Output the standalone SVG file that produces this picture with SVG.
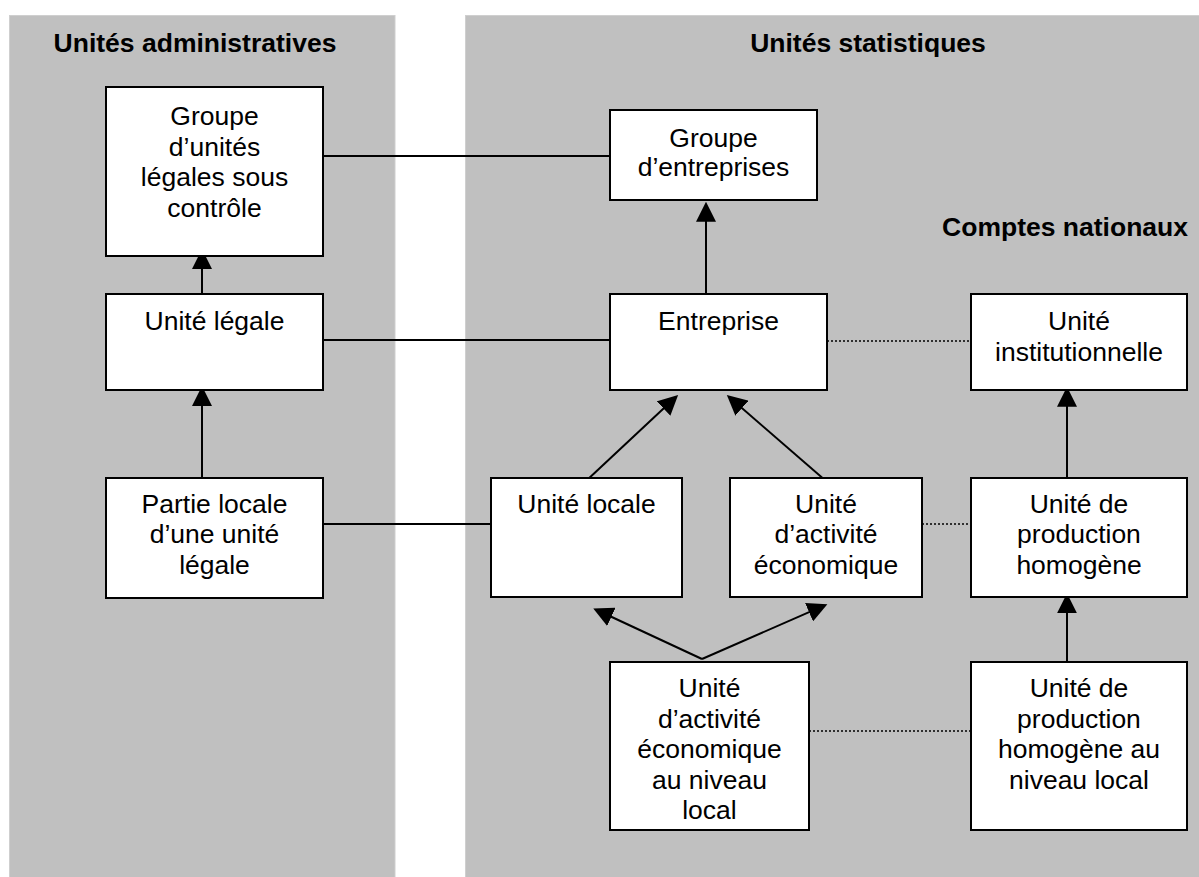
<svg xmlns="http://www.w3.org/2000/svg" width="1199" height="877" viewBox="0 0 1199 877">
<style>
.panel{fill:#c0c0c0;stroke:#cfcfcf;stroke-width:1}
.box{fill:#ffffff;stroke:#000000;stroke-width:2}
.t{font-family:"Liberation Sans",Arial,sans-serif;font-size:26.5px;fill:#000000;text-anchor:middle}
.h{font-family:"Liberation Sans",Arial,sans-serif;font-size:26.5px;font-weight:bold;fill:#000000}
.solid{stroke:#000000;stroke-width:2;fill:none}
.dot{stroke:#000000;stroke-width:1.3;stroke-dasharray:2 2;fill:none}
.arr{stroke:#000000;stroke-width:2;fill:none;marker-end:url(#ah)}
</style>
<defs>
<marker id="ah" markerUnits="userSpaceOnUse" markerWidth="20" markerHeight="20" refX="15" refY="10" orient="auto" viewBox="0 0 20 20">
<path d="M0,0 L20,10 L0,20 Z" fill="#000000"/>
</marker>
</defs>
<rect width="1199" height="877" fill="#ffffff"/>
<g id="panels">
<rect class="panel" x="9.5" y="15.5" width="385.5" height="862"/>
<rect class="panel" x="465.5" y="15.5" width="734" height="862"/>
<text class="h" x="195" y="52" text-anchor="middle">Unités administratives</text>
<text class="h" x="868" y="52" text-anchor="middle">Unités statistiques</text>
<text class="h" x="1188" y="236" text-anchor="end">Comptes nationaux</text>
</g>
<g id="connectors">
<line class="solid" x1="323" y1="156" x2="610" y2="156"/>
<line class="solid" x1="323" y1="340" x2="610" y2="340"/>
<line class="solid" x1="323" y1="524" x2="491" y2="524"/>
<line class="dot" x1="827" y1="341" x2="971" y2="341"/>
<line class="dot" x1="922" y1="524" x2="971" y2="524"/>
<line class="dot" x1="809" y1="731" x2="971" y2="731"/>
<path class="arr" d="M202,294 L202,254"/>
<path class="arr" d="M202,478 L202,391"/>
<path class="arr" d="M706,296 L706,206.7"/>
<path class="arr" d="M586,481 L674.5,398.3"/>
<path class="arr" d="M826,481 L730.6,398.3"/>
<path class="arr" d="M1067,478 L1067,391.7"/>
<path class="arr" d="M1067,664 L1067,598.3"/>
<path class="arr" d="M702,659 L597.8,610.5"/>
<path class="arr" d="M702,659 L822.8,606.2"/>
</g>
<g id="n-groupe-ul">
<rect class="box" x="106" y="87" width="217" height="169"/>
<text class="t" x="214.5" y="125">Groupe</text>
<text class="t" x="214.5" y="155.5">d’unités</text>
<text class="t" x="214.5" y="186">légales sous</text>
<text class="t" x="214.5" y="216.5">contrôle</text>
</g>
<g id="n-unite-legale">
<rect class="box" x="106" y="294" width="217" height="96"/>
<text class="t" x="214.5" y="330">Unité légale</text>
</g>
<g id="n-partie-locale">
<rect class="box" x="106" y="478" width="217" height="120"/>
<text class="t" x="214.5" y="512.5">Partie locale</text>
<text class="t" x="214.5" y="543">d’une unité</text>
<text class="t" x="214.5" y="573.5">légale</text>
</g>
<g id="n-groupe-ent">
<rect class="box" x="610" y="110" width="207" height="90"/>
<text class="t" x="713.5" y="146.5">Groupe</text>
<text class="t" x="713.5" y="176">d’entreprises</text>
</g>
<g id="n-entreprise">
<rect class="box" x="610" y="294" width="217" height="96"/>
<text class="t" x="718.5" y="330">Entreprise</text>
</g>
<g id="n-unite-inst">
<rect class="box" x="971" y="294" width="216" height="96"/>
<text class="t" x="1079" y="330">Unité</text>
<text class="t" x="1079" y="360.5">institutionnelle</text>
</g>
<g id="n-unite-locale">
<rect class="box" x="491" y="478" width="191" height="119"/>
<text class="t" x="586.5" y="512.5">Unité locale</text>
</g>
<g id="n-uae">
<rect class="box" x="730" y="478" width="192" height="119"/>
<text class="t" x="826" y="512.5">Unité</text>
<text class="t" x="826" y="543">d’activité</text>
<text class="t" x="826" y="573.5">économique</text>
</g>
<g id="n-uph">
<rect class="box" x="971" y="478" width="216" height="119"/>
<text class="t" x="1079" y="512.5">Unité de</text>
<text class="t" x="1079" y="543">production</text>
<text class="t" x="1079" y="573.5">homogène</text>
</g>
<g id="n-uael">
<rect class="box" x="610" y="662" width="199" height="168"/>
<text class="t" x="709.5" y="697">Unité</text>
<text class="t" x="709.5" y="727.5">d’activité</text>
<text class="t" x="709.5" y="758">économique</text>
<text class="t" x="709.5" y="788.5">au niveau</text>
<text class="t" x="709.5" y="819">local</text>
</g>
<g id="n-uphl">
<rect class="box" x="971" y="662" width="216" height="168"/>
<text class="t" x="1079" y="697">Unité de</text>
<text class="t" x="1079" y="727.5">production</text>
<text class="t" x="1079" y="758">homogène au</text>
<text class="t" x="1079" y="788.5">niveau local</text>
</g>
</svg>
